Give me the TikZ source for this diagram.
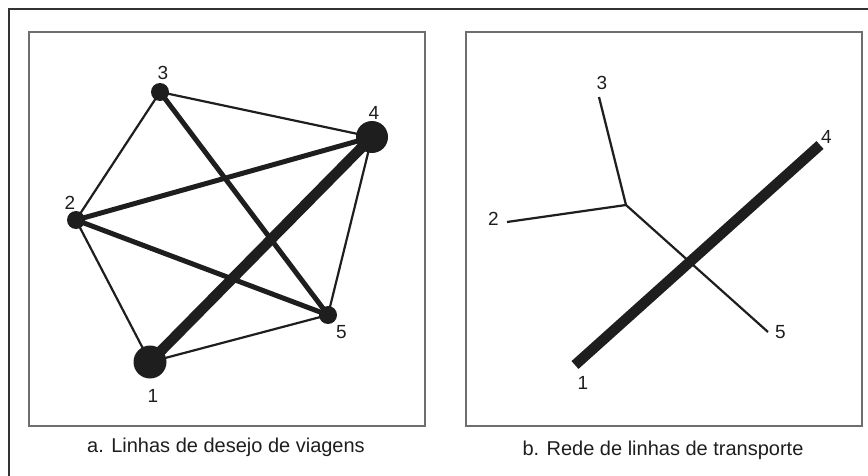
\documentclass[tikz,border=0pt]{standalone}
\usepackage{fontspec}
\setmainfont{Liberation Sans}
\usetikzlibrary{positioning}
\definecolor{tinta}{HTML}{1E1E1E}
\definecolor{moldura}{HTML}{6E6E6E}
\begin{document}
\begin{tikzpicture}[
    x=1pt, y=-1pt,
    every label/.style={inner sep=1pt, text=tinta, font=\fontsize{19}{22}\selectfont},
    panel/.style={draw=moldura, line width=1.5pt, minimum width=396pt, minimum height=394pt, inner sep=0pt},
    legenda/.style={font=\fontsize{20}{24}\selectfont, text=tinta},
    stop/.style={circle, fill=tinta, inner sep=0pt, minimum size=#1},
    weak/.style={draw=tinta, line width=2.2pt},
    mid/.style={draw=tinta, line width=5pt},
    heavy/.style={draw=tinta, line width=10.5pt}
    ]
  \useasboundingbox (0,0) rectangle (868,476);
  % outer frame (cut at right and bottom)
  \draw [draw=black!80, line width=1.3pt] (9,476) |- (868,9);

  % panel a
  \node [panel] (pa) at (227,229) {};
  \node [stop=18pt, label={[label distance=2pt, xshift=3pt]above:3}] (a3) at (160,92) {};
  \node [stop=32pt, label={[label distance=0pt, xshift=2pt]above:4}] (a4) at (372,137) {};
  \node [stop=18pt, label={[label distance=0pt, xshift=-6pt]above:2}] (a2) at (76,220) {};
  \node [stop=18pt, label={[label distance=2pt]-52:5}] (a5) at (328,315) {};
  \node [stop=33pt, label={[label distance=10pt, xshift=3pt]below:1}] (a1) at (150,362) {};

  \draw [weak] (a3.center) -- (a4.center);
  \draw [weak] (a3.center) -- (a2.center);
  \draw [weak] (a2.center) -- (a1.center);
  \draw [weak] (a1.center) -- (a5.center);
  \draw [weak] (a5.center) -- (a4.center);
  \draw [mid] (a3.center) -- (a5.center);
  \draw [mid] (a2.center) -- (a4.center);
  \draw [mid] (a2.center) -- (a5.center);
  \draw [heavy] (a1.center) -- (a4.center);

  \node [legenda] (capa) at (226,447) {a. Linhas de desejo de viagens};

  % panel b
  \node [panel] (pb) at (664,229) {};
  \coordinate [label={[label distance=6pt, xshift=3pt]above:3}] (b3) at (599,97);
  \coordinate [label={[label distance=0pt]45:4}] (b4) at (820,145);
  \coordinate [label={[label distance=7pt, yshift=3pt]left:2}] (b2) at (507,222);
  \coordinate [label={[label distance=6pt]right:5}] (b5) at (768,332);
  \coordinate [label={[label distance=10pt, xshift=8pt]below:1}] (b1) at (575,365);
  \coordinate (bj) at (626,205);

  \draw [weak] (b3) -- (bj);
  \draw [weak] (b2) -- (bj);
  \draw [weak] (bj) -- (b5);
  \draw [heavy] (b1) -- (b4);

  \node [legenda] (capb) at (663,450) {b. Rede de linhas de transporte};
\end{tikzpicture}
\end{document}
